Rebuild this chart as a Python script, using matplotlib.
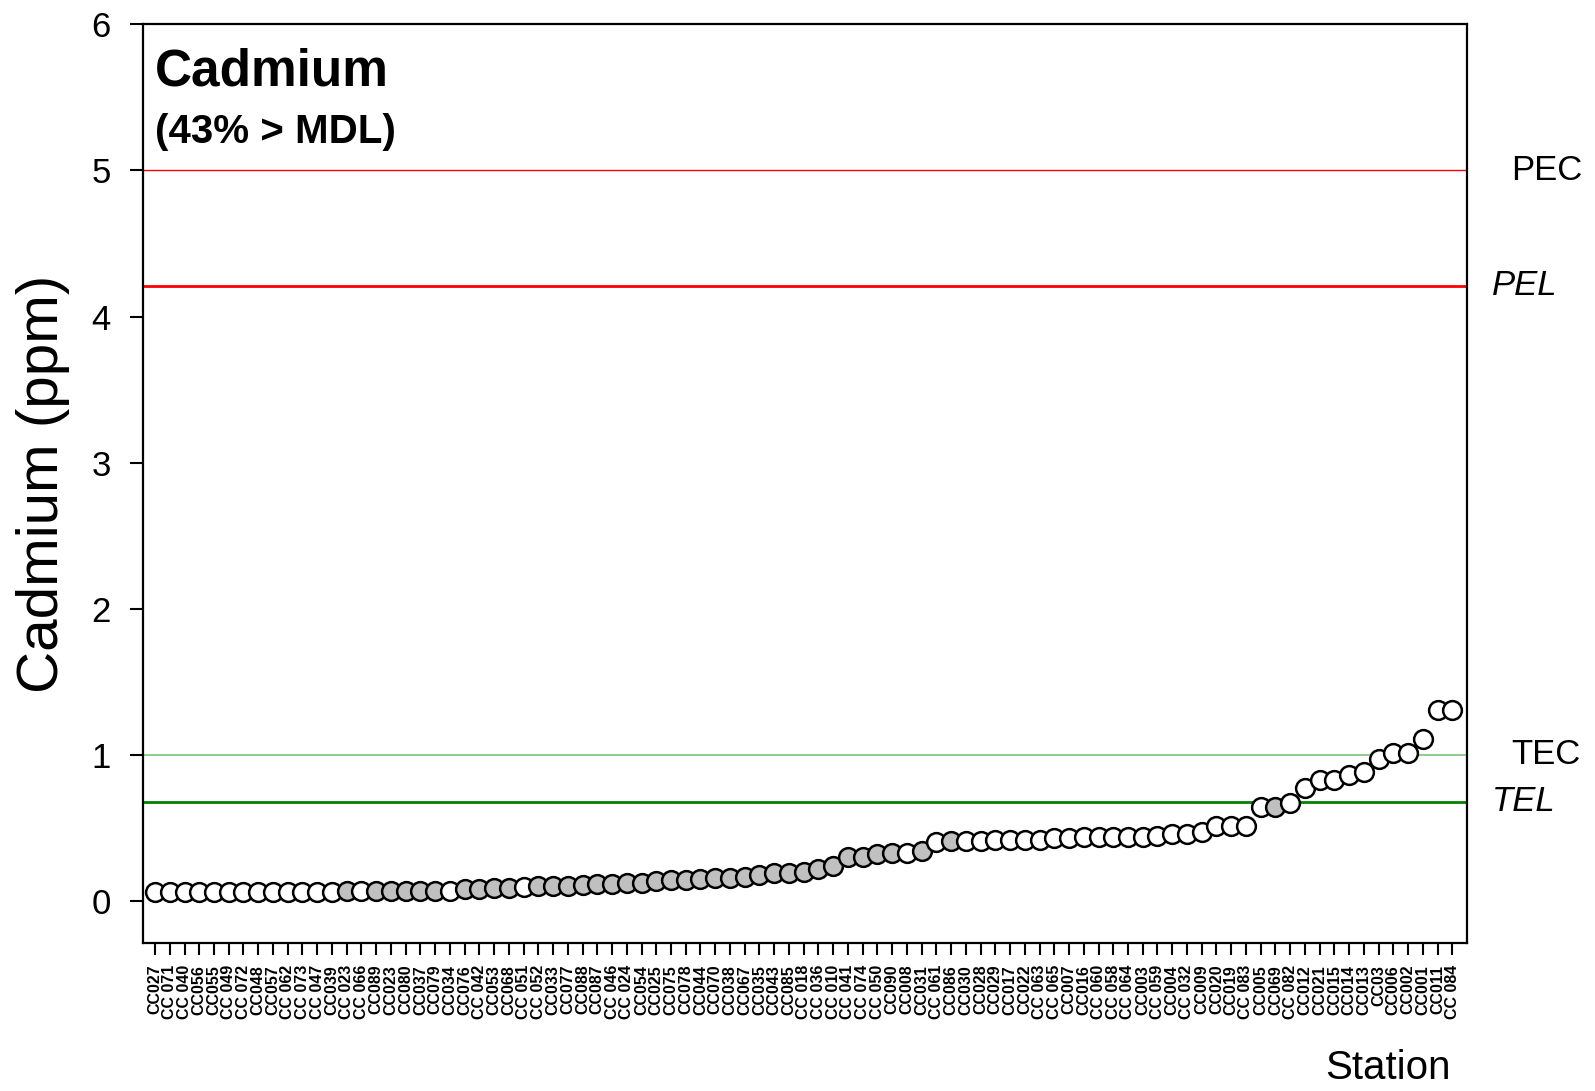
import matplotlib
matplotlib.use("Agg")
import matplotlib.pyplot as plt
import matplotlib.transforms as mtransforms

plt.rcParams['font.family'] = ['Liberation Sans', 'DejaVu Sans']

# stations sorted by cadmium concentration
stations = ['CC027', 'CC 071', 'CC 040', 'CC056', 'CC055', 'CC 049', 'CC 072', 'CC048', 'CC057', 'CC 062',
            'CC 073', 'CC 047', 'CC039', 'CC 023', 'CC 066', 'CC089', 'CC023', 'CC080', 'CC037', 'CC079',
            'CC034', 'CC076', 'CC 042', 'CC053', 'CC068', 'CC 051', 'CC 052', 'CC033', 'CC077', 'CC088',
            'CC087', 'CC 046', 'CC 024', 'CC054', 'CC025', 'CC075', 'CC078', 'CC044', 'CC070', 'CC038',
            'CC067', 'CC035', 'CC043', 'CC085', 'CC 018', 'CC 036', 'CC 010', 'CC 041', 'CC 074', 'CC 050',
            'CC090', 'CC008', 'CC031', 'CC 061', 'CC086', 'CC030', 'CC028', 'CC029', 'CC017', 'CC022',
            'CC 063', 'CC 065', 'CC007', 'CC016', 'CC 060', 'CC 058', 'CC 064', 'CC003', 'CC 059', 'CC004',
            'CC 032', 'CC009', 'CC020', 'CC019', 'CC 083', 'CC005', 'CC069', 'CC 082', 'CC012', 'CC021',
            'CC015', 'CC014', 'CC013', 'CC03', 'CC006', 'CC002', 'CC001', 'CC011', 'CC 084']

cadmium = [0.06, 0.06, 0.06, 0.06, 0.06, 0.06, 0.06, 0.06, 0.06, 0.06,
           0.06, 0.06, 0.06, 0.065, 0.065, 0.07, 0.07, 0.07, 0.07, 0.07,
           0.07, 0.08, 0.08, 0.09, 0.09, 0.095, 0.10, 0.10, 0.105, 0.11,
           0.115, 0.115, 0.12, 0.125, 0.135, 0.14, 0.145, 0.15, 0.155, 0.16,
           0.165, 0.175, 0.19, 0.19, 0.196, 0.22, 0.24, 0.30, 0.30, 0.32,
           0.33, 0.33, 0.34, 0.40, 0.41, 0.41, 0.41, 0.415, 0.42, 0.42,
           0.42, 0.43, 0.43, 0.435, 0.435, 0.44, 0.44, 0.44, 0.445, 0.46,
           0.46, 0.47, 0.51, 0.51, 0.51, 0.64, 0.645, 0.67, 0.775, 0.83,
           0.83, 0.86, 0.885, 0.97, 1.01, 1.01, 1.11, 1.31, 1.31]

# 1 = detected above MDL (grey), 0 = below MDL (white)
above_mdl = [0, 0, 0, 0, 0, 0, 0, 0, 0, 0,
             0, 0, 0, 1, 0, 1, 1, 1, 1, 1,
             0, 1, 1, 1, 1, 0, 1, 1, 1, 1,
             1, 1, 1, 1, 1, 1, 1, 1, 1, 1,
             1, 1, 1, 1, 1, 1, 1, 1, 1, 1,
             1, 0, 1, 0, 1, 0, 0, 0, 0, 0,
             0, 0, 0, 0, 0, 0, 0, 0, 0, 0,
             0, 0, 0, 0, 0, 0, 1, 0, 0, 0,
             0, 0, 0, 0, 0, 0, 0, 0, 0]

guide_names = ['PEC', 'PEL', 'TEC', 'TEL']
guide_values = [5.0, 4.21, 1.0, 0.68]

fig = plt.figure(figsize=(15.95, 10.91), dpi=100)
ax = fig.add_axes([0.0898, 0.1354, 0.8298, 0.8423])

# guideline levels
guide_style = {
    'PEC': dict(color='#ff0000', lw=1.0, italic=False),
    'PEL': dict(color='#ff0000', lw=2.0, italic=True),
    'TEC': dict(color='#6fbf6f', lw=1.1, italic=False),
    'TEL': dict(color='#008000', lw=2.0, italic=True),
}
trans = mtransforms.blended_transform_factory(ax.transAxes, ax.transData)
for name, val in zip(guide_names, guide_values):
    st = guide_style[name]
    ax.axhline(val, color=st['color'], lw=st['lw'], zorder=1)
    ax.text(1.019 if st['italic'] else 1.0335, val, name, transform=trans,
            ha='left', va='center', fontsize=25,
            style='italic' if st['italic'] else 'normal')

x = list(range(len(stations)))
for i, (v, d) in enumerate(zip(cadmium, above_mdl)):
    ax.plot(i, v, 'o', ms=13.5, mew=1.8, mec='black',
            mfc='#c0c0c0' if d else 'white', zorder=3, clip_on=False)

ax.set_xlim(-0.8, 88.98)
ax.set_ylim(-0.29, 6)
ax.set_yticks([0, 1, 2, 3, 4, 5, 6])
ax.tick_params(axis='y', labelsize=25, length=9.5, width=1.5, pad=14, direction='out')
ax.set_xticks(x)
ax.set_xticklabels(stations, rotation=90, fontsize=11.5, fontweight='bold')
ax.tick_params(axis='x', length=8.5, width=1.5, pad=7, direction='out')
for sp in ax.spines.values():
    sp.set_linewidth(1.6)

fig.text(43 / 1595, 1 - 483.8 / 1091, 'Cadmium (ppm)', rotation=90,
         ha='center', va='center', fontsize=42)
fig.text(1451 / 1595, 1 - 1079 / 1091, 'Station', ha='right', va='baseline', fontsize=29)
fig.text(155 / 1595, 1 - 85 / 1091, 'Cadmium', ha='left', va='baseline',
         fontsize=37, fontweight='bold')
fig.text(155 / 1595, 1 - 143 / 1091, '(43% > MDL)', ha='left', va='baseline',
         fontsize=29, fontweight='bold')

fig.savefig('out.png', dpi=100)
